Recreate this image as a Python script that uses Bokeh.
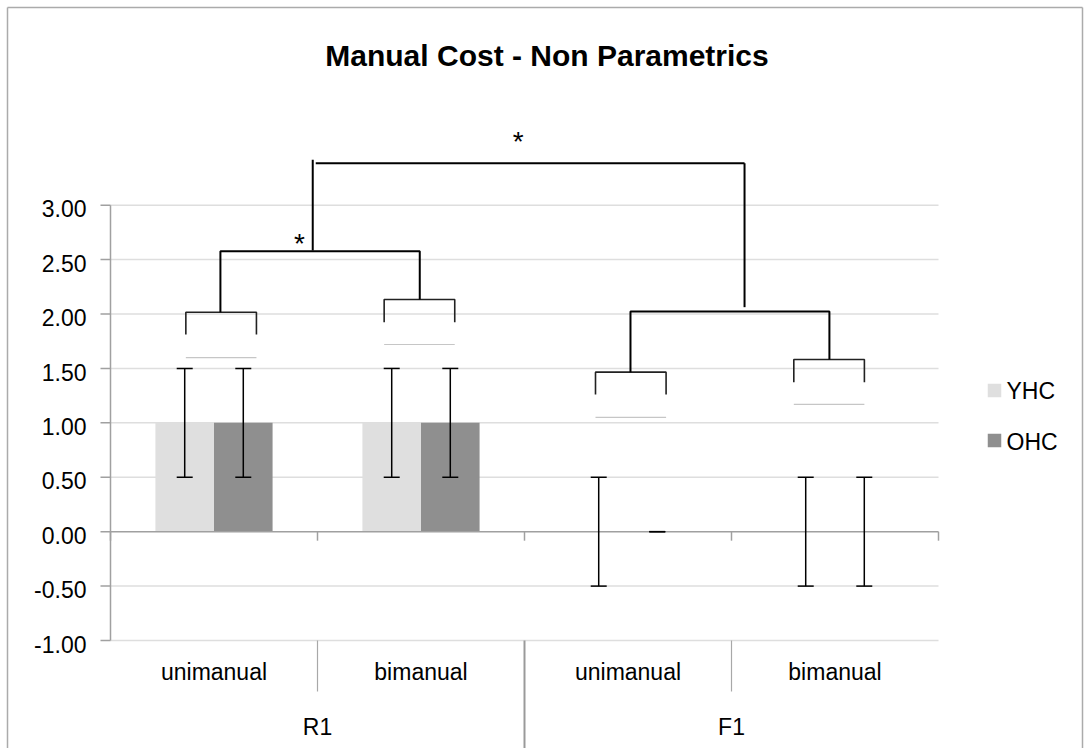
from bokeh.plotting import figure
from bokeh.models import Range1d
from bokeh.core.properties import value
from bokeh.embed import file_html
from bokeh.resources import INLINE

# ---------------------------------------------------------------- data
groups = ["R1", "F1"]
conditions = ["unimanual", "bimanual", "unimanual", "bimanual"]
series = ["YHC", "OHC"]
yhc_mean = [1.0, 1.0, 0.0, 0.0]
ohc_mean = [1.0, 1.0, 0.0, 0.0]
yhc_err = [0.5, 0.5, 0.5, 0.5]
ohc_err = [0.5, 0.5, 0.0, 0.5]
y_ticks = [-1.0, -0.5, 0.0, 0.5, 1.0, 1.5, 2.0, 2.5, 3.0]
title_text = "Manual Cost - Non Parametrics"

# significance brackets (x in category units, y in data units)
pair_x0 = [0.364, 1.322, 2.343, 3.301]
pair_x1 = [0.705, 1.663, 2.684, 3.642]
pair_top = [2.017, 2.134, 1.466, 1.582]
pair_foot = [1.812, 1.925, 1.261, 1.374]
pair_ref = [1.60, 1.72, 1.05, 1.17]
group_x0 = [0.531, 2.512]
group_x1 = [1.494, 3.473]
group_top = [2.577, 2.023]
group_foot0 = [2.017, 1.466]
group_foot1 = [2.134, 1.582]
outer_x = [0.977, 3.063]
outer_top = 3.386
outer_foot = [2.584, 2.063]
star_x = [0.913, 1.970]
star_center = [2.706, 3.640]

# -------------------------------------------------------------- layout
W, H = 1090, 748
X0_PX = 110.0      # left edge of the plot area
CAT_PX = 207.0     # width of one category
Y3_PX = 204.7      # pixel row of the 3.00 tick
UNIT_PX = 108.83   # pixels per unit on the value axis


def dx(px):
    return (px - X0_PX) / CAT_PX


def dy(py):
    return 3.0 - (py - Y3_PX) / UNIT_PX


def base(py, size):
    """Data y of a text baseline whose glyphs should sit on pixel row py."""
    return dy(py - 0.36 * size)


FONT = value("Liberation Sans")
LBL = 23
LABEL_SIZE = value("%dpx" % LBL)
YHC_COLOR = "#dfdfdf"
OHC_COLOR = "#8f8f8f"
GRID_COLOR = "#dedede"
AXIS_COLOR = "#a0a0a0"
BAR_W = 0.283
CAP_HALF = 8.0 / CAT_PX
N = len(conditions)

p = figure(width=W, height=H, x_range=Range1d(dx(0), dx(W)),
           y_range=Range1d(dy(H), dy(0)), x_axis_type=None, y_axis_type=None,
           toolbar_location=None, output_backend="svg", min_border=0,
           outline_line_color=None, background_fill_color="white",
           border_fill_color="white")

# chart border
p.segment(x0=[dx(7), dx(7), dx(1082)], y0=[dy(7), dy(7), dy(7)],
          x1=[dx(7), dx(1082), dx(1082)], y1=[dy(H + 5), dy(7), dy(H + 5)],
          line_color="#ababab", line_width=1.5)

# title
p.text(x=[dx(546.5)], y=[base(66, 30)], text=[title_text], text_font=FONT,
       text_font_size=value("30px"), text_font_style="bold",
       text_align="center", text_baseline="alphabetic", text_color="black")

# horizontal gridlines
grid_levels = [t for t in y_ticks if t != 0.0]
p.segment(x0=[0] * len(grid_levels), y0=grid_levels, x1=[N] * len(grid_levels),
          y1=grid_levels, line_color=GRID_COLOR, line_width=1.5)

# bars
centers = [i + 0.5 for i in range(N)]
yhc_x = [c - BAR_W / 2 for c in centers]
ohc_x = [c + BAR_W / 2 for c in centers]
p.vbar(x=yhc_x, top=yhc_mean, bottom=0, width=BAR_W, fill_color=YHC_COLOR,
       line_color=None)
p.vbar(x=ohc_x, top=ohc_mean, bottom=0, width=BAR_W, fill_color=OHC_COLOR,
       line_color=None)

# value axis
tick_len = dx(X0_PX) - dx(X0_PX - 10)
p.segment(x0=[0], y0=[y_ticks[0]], x1=[0], y1=[y_ticks[-1]],
          line_color=AXIS_COLOR, line_width=1.5)
p.segment(x0=[-tick_len] * len(y_ticks), y0=y_ticks, x1=[0] * len(y_ticks),
          y1=y_ticks, line_color=AXIS_COLOR, line_width=1.5)
label_drop = (12 - 0.36 * LBL) / UNIT_PX
p.text(x=[dx(86)] * len(y_ticks), y=[t - label_drop for t in y_ticks],
       text=["%.2f" % t for t in y_ticks], text_font=FONT,
       text_font_size=LABEL_SIZE, text_align="right",
       text_baseline="alphabetic", text_color="black")

# category axis crossing at zero
bounds = list(range(N + 1))
p.segment(x0=[0], y0=[0], x1=[N], y1=[0], line_color=AXIS_COLOR, line_width=1.5)
p.segment(x0=bounds, y0=[0] * len(bounds), x1=bounds,
          y1=[-9 / UNIT_PX] * len(bounds), line_color=AXIS_COLOR, line_width=1.5)

# category label table below the plot area
p.segment(x0=[1, 3], y0=[y_ticks[0]] * 2, x1=[1, 3], y1=[dy(691)] * 2,
          line_color="#a8a8a8", line_width=1.2)
p.segment(x0=[2], y0=[y_ticks[0]], x1=[2], y1=[dy(H + 5)],
          line_color="#9a9a9a", line_width=2)
p.text(x=centers, y=[base(680, LBL)] * N, text=conditions, text_font=FONT,
       text_font_size=LABEL_SIZE, text_align="center",
       text_baseline="alphabetic", text_color="black")
p.text(x=[1, 3], y=[base(735, LBL)] * 2, text=groups, text_font=FONT,
       text_font_size=LABEL_SIZE, text_align="center",
       text_baseline="alphabetic", text_color="black")


# error bars
def error_bars(xs, means, errs):
    lo = [m - e for m, e in zip(means, errs)]
    hi = [m + e for m, e in zip(means, errs)]
    p.segment(x0=xs, y0=lo, x1=xs, y1=hi, line_color="black", line_width=1.5)
    left = [x - CAP_HALF for x in xs]
    right = [x + CAP_HALF for x in xs]
    p.segment(x0=left + left, y0=lo + hi, x1=right + right, y1=lo + hi,
              line_color="black", line_width=1.5)


error_bars(yhc_x, yhc_mean, yhc_err)
error_bars(ohc_x, ohc_mean, ohc_err)

# thin reference lines under the pairwise brackets
p.segment(x0=pair_x0, y0=pair_ref, x1=pair_x1, y1=pair_ref,
          line_color="#c6c6c6", line_width=1.2)

# pairwise brackets
p.multi_line(xs=[[a, a, b, b] for a, b in zip(pair_x0, pair_x1)],
             ys=[[f, t, t, f] for t, f in zip(pair_top, pair_foot)],
             line_color="#222222", line_width=1.6)

# group brackets
p.multi_line(xs=[[a, a, b, b] for a, b in zip(group_x0, group_x1)],
             ys=[[f0, t, t, f1] for t, f0, f1 in zip(group_top, group_foot0, group_foot1)],
             line_color="black", line_width=2)

# bracket between R1 and F1
p.segment(x0=[outer_x[0]], y0=[outer_foot[0]], x1=[outer_x[0]],
          y1=[outer_top + 3.5 / UNIT_PX], line_color="black", line_width=2)
p.segment(x0=[outer_x[0] + 3 / CAT_PX], y0=[outer_top], x1=[outer_x[1]],
          y1=[outer_top], line_color="black", line_width=2)
p.segment(x0=[outer_x[1]], y0=[outer_top], x1=[outer_x[1]], y1=[outer_foot[1]],
          line_color="black", line_width=2)

# significance marks (the asterisk glyph sits about 0.23 em above the
# rendered anchor row)
STAR = 28
p.text(x=star_x, y=[c - 0.23 * STAR / UNIT_PX for c in star_center],
       text=["*", "*"], text_font=FONT, text_font_size=value("%dpx" % STAR),
       text_align="center", text_baseline="alphabetic", text_color="black")

# legend
p.scatter(x=[dx(994)] * 2, y=[dy(390), dy(440)], marker="square", size=13.5,
          fill_color=[YHC_COLOR, OHC_COLOR], line_color=None)
p.text(x=[dx(1006)] * 2, y=[base(399, LBL), base(449.5, LBL)], text=series,
       text_font=FONT, text_font_size=LABEL_SIZE, text_align="left",
       text_baseline="alphabetic", text_color="black")

open("out.html", "w").write(file_html(p, INLINE))
